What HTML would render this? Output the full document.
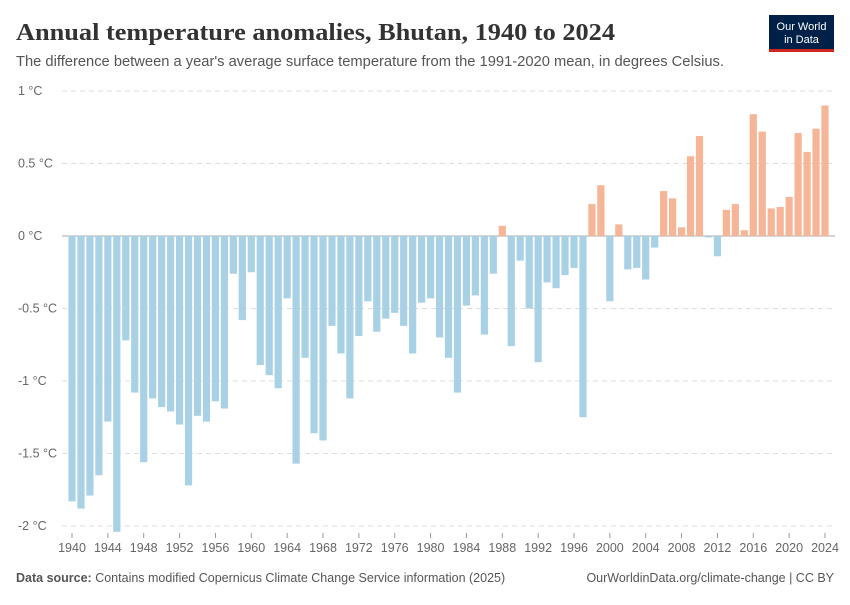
<!DOCTYPE html>
<html><head><meta charset="utf-8"><style>
body{margin:0;background:#fff;font-family:"Liberation Sans",sans-serif}
svg text{font-family:"Liberation Sans",sans-serif}
</style></head><body>
<svg id="c" width="850" height="600" viewBox="0 0 850 600">
<text x="16" y="40" font-size="24" font-weight="bold" fill="#333" style="font-family:'Liberation Serif',serif" textLength="599" lengthAdjust="spacingAndGlyphs">Annual temperature anomalies, Bhutan, 1940 to 2024</text>
<text x="16" y="66" font-size="14.5" fill="#555" textLength="708" lengthAdjust="spacingAndGlyphs">The difference between a year's average surface temperature from the 1991-2020 mean, in degrees Celsius.</text>
<g>
<rect x="769" y="15" width="65" height="37" fill="#002147"/>
<rect x="769" y="49" width="65" height="3" fill="#ce261e"/>
<text x="801.5" y="30" font-size="11" fill="#fff" text-anchor="middle">Our World</text>
<text x="801.5" y="43" font-size="11" fill="#fff" text-anchor="middle">in Data</text>
</g>
<g id="grid"></g><g id="bars"></g><g id="xt"></g>
<text x="16" y="582" font-size="12.5" fill="#555"><tspan font-weight="bold">Data source:</tspan> Contains modified Copernicus Climate Change Service information (2025)</text>
<text x="834" y="582" font-size="12.5" fill="#555" text-anchor="end">OurWorldinData.org/climate-change | CC BY</text>
</svg>
<script>
const years=[];for(let y=1940;y<=2024;y++)years.push(y);
const values=[-1.83,-1.88,-1.79,-1.65,-1.28,-2.04,-0.72,-1.08,-1.56,-1.12,-1.18,-1.21,-1.30,-1.72,-1.24,-1.28,-1.14,-1.19,-0.26,-0.58,-0.25,-0.89,-0.96,-1.05,-0.43,-1.57,-0.84,-1.36,-1.41,-0.62,-0.81,-1.12,-0.69,-0.45,-0.66,-0.57,-0.53,-0.62,-0.81,-0.46,-0.43,-0.70,-0.84,-1.08,-0.48,-0.41,-0.68,-0.26,0.07,-0.76,-0.17,-0.50,-0.87,-0.32,-0.36,-0.27,-0.22,-1.25,0.22,0.35,-0.45,0.08,-0.23,-0.22,-0.30,-0.08,0.31,0.26,0.06,0.55,0.69,-0.01,-0.14,0.18,0.22,0.04,0.84,0.72,0.19,0.20,0.27,0.71,0.58,0.74,0.90];
const yTicks=[1,0.5,0,-0.5,-1,-1.5,-2];
const yTickLabels=["1 °C","0.5 °C","0 °C","-0.5 °C","-1 °C","-1.5 °C","-2 °C"];
const xTicks=[1940,1944,1948,1952,1956,1960,1964,1968,1972,1976,1980,1984,1988,1992,1996,2000,2004,2008,2012,2016,2020,2024];
const NS="http://www.w3.org/2000/svg";
const ys=v=>236-v*145;
const xs=yr=>72+(yr-1940)*(825-72)/84;
function mk(t,a,p){const e=document.createElementNS(NS,t);for(const k in a)e.setAttribute(k,a[k]);p.appendChild(e);return e;}
const g=document.getElementById('grid'),b=document.getElementById('bars'),xt=document.getElementById('xt');
yTicks.forEach((v,i)=>{
 if(v!==0){const l=mk('line',{x1:62,x2:835,y1:ys(v),y2:ys(v),stroke:'#ddd','stroke-dasharray':'5,4'},g);
 
 }
 const t=mk('text',{x:18,y:ys(v)+4,'font-size':12.5,fill:'#666'},g);t.textContent=yTickLabels[i];
 
 
});
values.forEach((v,i)=>{
 const x=xs(years[i]);const y0=ys(0),y1=ys(v);
 const r=mk('rect',{x:x-3.6,y:Math.min(y0,y1),width:7.2,height:Math.max(Math.abs(y1-y0),0.8),fill:v>=0?'#f6b596':'#a9d1e5'},b);
 
 
});
const ax=mk('line',{x1:62,x2:835,y1:236,y2:236,stroke:'#aaa','stroke-width':1},g);


xTicks.forEach(yr=>{
 const x=xs(yr);
 mk('line',{x1:x,x2:x,y1:533,y2:538,stroke:'#999'},xt);
 const t=mk('text',{x:x,y:552,'font-size':12.5,fill:'#666','text-anchor':'middle'},xt);t.textContent=yr;
 
 
});
</script>
</body></html>
